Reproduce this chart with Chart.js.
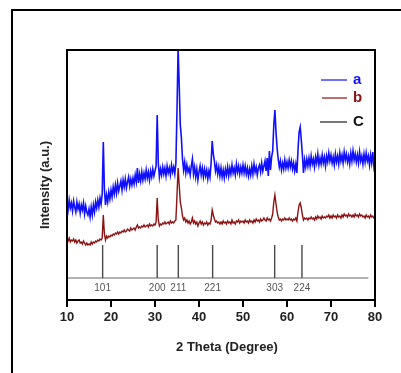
<!DOCTYPE html>
<html>
<head>
<meta charset="utf-8">
<script src="https://cdn.jsdelivr.net/npm/chart.js@4.4.1/dist/chart.umd.min.js"></script>
<style>
html,body{margin:0;padding:0;background:#fff;}
canvas{display:block;}
</style>
</head>
<body>
<canvas id="c" width="401" height="373"></canvas>
<script>
// 2 Theta sampling positions (degrees)
const theta = [
10,10.25,10.5,10.75,11,11.25,11.5,11.75,12,12.25,12.5,12.75,13,13.25,13.5,13.75,14,14.25,14.5,14.75,
15,15.25,15.5,15.75,16,16.25,16.5,16.75,17,17.25,17.5,17.75,18,18.25,18.5,18.75,19,19.25,19.5,19.75,
20,20.25,20.5,20.75,21,21.25,21.5,21.75,22,22.25,22.5,22.75,23,23.25,23.5,23.75,24,24.25,24.5,24.75,
25,25.25,25.5,25.75,26,26.25,26.5,26.75,27,27.25,27.5,27.75,28,28.25,28.5,28.75,29,29.25,29.5,29.75,
30,30.25,30.5,30.75,31,31.25,31.5,31.75,32,32.25,32.5,32.75,33,33.25,33.5,33.75,34,34.25,34.5,34.75,
35,35.25,35.5,35.75,36,36.25,36.5,36.75,37,37.25,37.5,37.75,38,38.25,38.5,38.75,39,39.25,39.5,39.75,
40,40.25,40.5,40.75,41,41.25,41.5,41.75,42,42.25,42.5,42.75,43,43.25,43.5,43.75,44,44.25,44.5,44.75,
45,45.25,45.5,45.75,46,46.25,46.5,46.75,47,47.25,47.5,47.75,48,48.25,48.5,48.75,49,49.25,49.5,49.75,
50,50.25,50.5,50.75,51,51.25,51.5,51.75,52,52.25,52.5,52.75,53,53.25,53.5,53.75,54,54.25,54.5,54.75,
55,55.25,55.5,55.75,56,56.25,56.5,56.75,57,57.25,57.5,57.75,58,58.25,58.5,58.75,59,59.25,59.5,59.75,
60,60.25,60.5,60.75,61,61.25,61.5,61.75,62,62.25,62.5,62.75,63,63.25,63.5,63.75,64,64.25,64.5,64.75,
65,65.25,65.5,65.75,66,66.25,66.5,66.75,67,67.25,67.5,67.75,68,68.25,68.5,68.75,69,69.25,69.5,69.75,
70,70.25,70.5,70.75,71,71.25,71.5,71.75,72,72.25,72.5,72.75,73,73.25,73.5,73.75,74,74.25,74.5,74.75,
75,75.25,75.5,75.75,76,76.25,76.5,76.75,77,77.25,77.5,77.75,78,78.25,78.5,78.75,79,79.25,79.5,79.75,
80
];

// Series a (blue), intensity in a.u.
const seriesA = [
97,90,100,92,97,89,99,93,88,98,91,96,87,95,90,97,86,94,88,85,
91,83,93,85,95,88,98,92,100,93,102,96,106,158,111,95,105,98,108,101,
110,103,113,106,115,107,117,109,114,119,110,120,113,121,112,118,123,114,121,115,
122,116,125,118,132,117,126,119,128,120,127,121,130,122,128,120,129,123,131,124,
129,134,185,137,123,131,125,133,126,132,124,134,127,132,125,135,128,133,126,137,
190,252,215,175,162,141,130,138,127,135,128,132,125,134,141,126,133,123,131,120,
128,134,125,132,123,131,124,130,121,129,123,137,159,146,139,129,135,126,133,124,
132,123,130,122,131,125,133,124,132,126,135,127,132,125,136,128,134,126,133,127,
135,127,134,126,132,124,131,125,134,126,136,128,133,125,132,135,128,137,129,134,
139,129,142,124,149,130,143,149,175,190,168,152,141,133,139,130,137,131,140,132,
138,132,140,133,139,131,137,129,136,127,150,168,173,160,145,127,140,133,141,134,
142,134,144,136,141,133,143,137,146,135,142,136,145,137,143,134,144,138,147,139,
145,137,143,135,146,138,144,136,147,139,145,137,148,140,146,138,144,136,147,139,
149,140,146,138,145,137,148,139,144,136,146,138,147,139,144,135,145,137,148,134,
141
];

// Series b (dark red), intensity in a.u.
const seriesB = [
61,59,62,58,60,59,61,58,60,57,59,60,57,58,56,59,57,55,57,55,
56,55,58,56,58,57,59,58,60,59,61,60,62,85,66,60,64,62,64,63,
65,64,66,65,67,66,68,66,68,67,69,68,70,68,69,71,70,69,72,70,
71,72,70,73,75,72,73,72,74,73,75,73,74,75,73,76,74,75,74,76,
75,78,102,80,74,76,75,77,76,78,76,77,78,76,79,77,78,77,79,80,
105,132,115,98,92,84,80,82,78,80,77,79,76,78,82,77,79,76,78,74,
77,79,76,78,75,77,76,78,75,77,76,80,90,85,81,78,79,77,78,76,
78,76,79,77,78,76,79,77,78,76,80,77,78,76,79,78,80,77,79,78,
79,77,80,78,79,77,80,78,79,77,80,78,81,79,80,78,81,79,80,82,
80,79,82,80,81,79,82,86,98,105,96,88,83,80,81,79,81,80,82,80,
81,80,82,80,81,79,81,80,82,79,88,95,97,92,85,80,82,81,82,80,
82,81,83,81,82,80,83,81,84,82,83,81,84,82,83,82,84,83,85,82,
84,82,85,83,84,82,85,83,84,82,85,83,86,84,85,83,86,84,85,83,
85,83,86,84,85,83,86,84,85,83,84,82,85,83,84,82,85,83,84,82,
83
];

// Reference pattern C: stick positions and Miller indices
const stickPos = [18.1, 30.5, 35.3, 43.1, 57.2, 63.4];
const stickLabels = ['101', '200', '211', '221', '303', '224'];
const stickBase = 22;
const stickTop = 55;
const stickLineEnd = 78.5;

const xTicks = [10, 20, 30, 40, 50, 60, 70, 80];
const legendNames = ['a', 'b', 'C'];

const BLUE = '#1010ff';
const RED = '#8c1212';
const GRAY = '#4a4a4a';

const stickData = [];
stickPos.forEach(p => {
  stickData.push({x: p, y: stickBase});
  stickData.push({x: p, y: stickTop});
  stickData.push({x: p, y: null});
});

const decor = {
  id: 'decor',
  afterDraw(chart) {
    const ctx = chart.ctx;
    const a = chart.chartArea;
    const xs = chart.scales.x;
    const ys = chart.scales.y;
    ctx.save();
    // plot frame
    ctx.strokeStyle = '#000';
    ctx.lineWidth = 2;
    ctx.strokeRect(a.left, a.top, a.right - a.left, a.bottom - a.top);
    // outer figure border
    ctx.fillStyle = '#000';
    ctx.fillRect(11, 9, 401, 2);
    ctx.fillRect(11, 9, 2, 373);
    // stick labels
    ctx.fillStyle = '#555';
    ctx.font = '10px "Liberation Sans", Arial, sans-serif';
    ctx.textAlign = 'center';
    ctx.textBaseline = 'middle';
    stickPos.forEach((p, i) => {
      ctx.fillText(stickLabels[i], xs.getPixelForValue(p), ys.getPixelForValue(stickBase) + 10);
    });
    // axis titles
    ctx.fillStyle = '#222';
    ctx.font = 'bold 13px "Liberation Sans", Arial, sans-serif';
    ctx.fillText('2 Theta (Degree)', 227, 347);
    ctx.save();
    ctx.translate(45, 185);
    ctx.rotate(-Math.PI / 2);
    ctx.fillText('Intensity (a.u.)', 0, 0);
    ctx.restore();
    // legend
    const cols = [BLUE, RED, GRAY];
    const textCols = [BLUE, RED, '#111'];
    const ly = [80, 98, 122];
    const lx0 = [321, 322, 320];
    ctx.font = 'bold 15px "Liberation Sans", Arial, sans-serif';
    ctx.textAlign = 'left';
    legendNames.forEach((n, i) => {
      ctx.strokeStyle = cols[i];
      ctx.lineWidth = i === 2 ? 1.5 : 1.2;
      ctx.beginPath();
      ctx.moveTo(lx0[i], ly[i]);
      ctx.lineTo(347, ly[i]);
      ctx.stroke();
      ctx.fillStyle = textCols[i];
      ctx.fillText(n, 353, ly[i]);
    });
    ctx.restore();
  }
};

new Chart(document.getElementById('c'), {
  type: 'line',
  data: {
    datasets: [
      {label: 'b', data: theta.map((t, i) => ({x: t, y: seriesB[i]})), borderColor: RED, borderWidth: 1.4, pointRadius: 0, order: 0},
      {label: 'a', data: theta.map((t, i) => ({x: t, y: seriesA[i]})), borderColor: BLUE, borderWidth: 1.6, pointRadius: 0, order: 1},
      {label: 'C', data: stickData, borderColor: GRAY, borderWidth: 1.4, pointRadius: 0, spanGaps: false, order: 2},
      {label: 'C base', data: [{x: 10, y: stickBase}, {x: stickLineEnd, y: stickBase}], borderColor: '#666', borderWidth: 1, pointRadius: 0, order: 3}
    ]
  },
  options: {
    responsive: false,
    animation: false,
    devicePixelRatio: 1,
    layout: {padding: {left: 0, right: 26, top: 50, bottom: 0}},
    plugins: {legend: {display: false}, tooltip: {enabled: false}},
    scales: {
      x: {
        type: 'linear', min: 10, max: 80,
        afterBuildTicks(s) { s.ticks = xTicks.map(v => ({value: v})); },
        afterFit(s) { s.height = 73; },
        ticks: {color: '#222', font: {family: '"Liberation Sans", Arial, sans-serif', size: 13, weight: 'bold'}, padding: 3, maxRotation: 0},
        grid: {drawOnChartArea: false, drawTicks: true, tickLength: 7, color: '#000', lineWidth: 2},
        border: {display: true, color: '#000', width: 2}
      },
      y: {
        min: 0, max: 250,
        afterFit(s) { s.width = 67; },
        ticks: {display: false},
        grid: {display: false},
        border: {display: true, color: '#000', width: 2}
      }
    }
  },
  plugins: [decor]
});
</script>
</body>
</html>
